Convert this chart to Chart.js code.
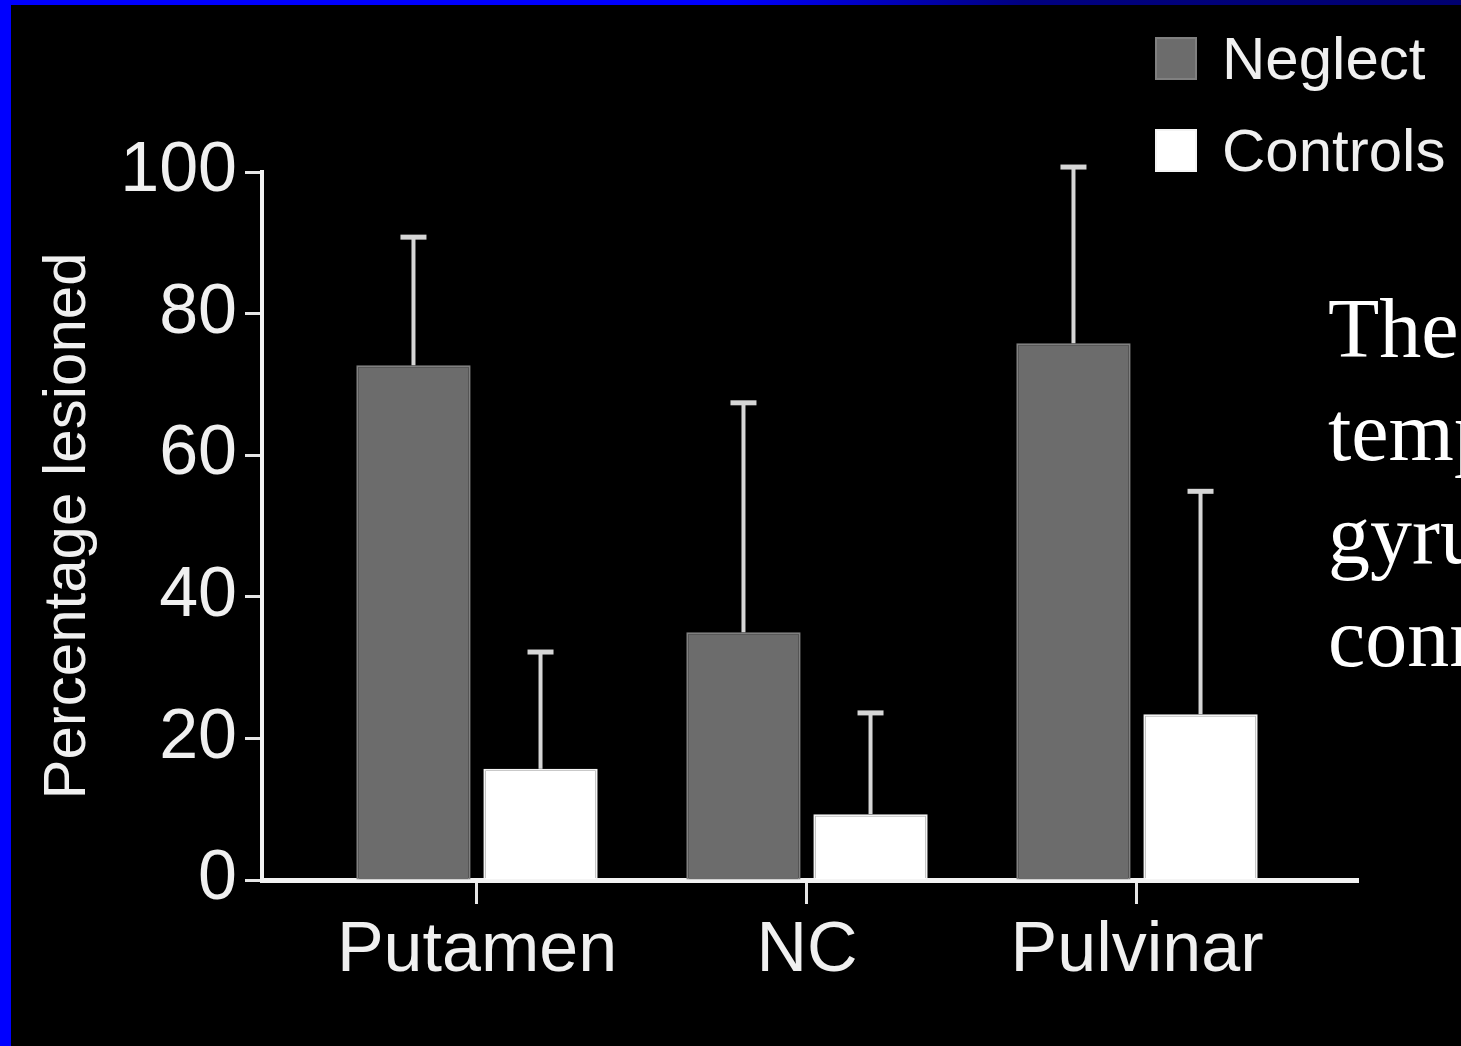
<!DOCTYPE html>
<html>
<head>
<meta charset="utf-8">
<script src="https://cdn.jsdelivr.net/npm/chart.js@4.4.1/dist/chart.umd.min.js"></script>
<style>
    html, body {
        margin: 0;
        padding: 0;
        width: 1461px;
        height: 1046px;
        overflow: hidden;
        background: #000;
    }
    .frame-left {
        position: absolute;
        left: 0; top: 0;
        width: 11px; height: 1046px;
        background: #0000ff;
    }
    .frame-top {
        position: absolute;
        left: 0; top: 0;
        width: 1461px; height: 5px;
        background: linear-gradient(to right, #0000ff 0%, #0000ff 50%, #000080 70%, #000070 100%);
    }
    #chartBox {
        position: absolute;
        left: 0; top: 0;
    }
    .legend {
        position: absolute;
        left: 1155px;
        top: 12px;
        font-family: "Liberation Sans", Arial, sans-serif;
        font-size: 60px;
        color: #f0f0f0;
    }
    .legend-item {
        display: flex;
        align-items: center;
        height: 92px;
        white-space: nowrap;
    }
    .legend-swatch {
        width: 42px;
        height: 43px;
        margin-right: 25px;
        box-sizing: border-box;
    }
    .side-text {
        position: absolute;
        left: 1328px;
        top: 277px;
        font-family: "Liberation Serif", "Times New Roman", serif;
        font-size: 84px;
        line-height: 103px;
        color: #fff;
        white-space: nowrap;
    }
</style>
</head>
<body>
<div class="frame-left"></div>
<div class="frame-top"></div>
<canvas id="chartBox" width="1461" height="1046"></canvas>
<div class="legend" id="legend"></div>
<div class="side-text">The<br>temporal<br>gyrus<br>connections</div>

<script>
// Data
const categories = ['Putamen', 'NC', 'Pulvinar'];
const categoryPos = [1, 2, 3];
const neglect = [72.7, 35.0, 75.8];
const neglectErr = [18.1, 32.4, 24.9];
const controls = [15.7, 9.3, 23.4];
const controlsErr = [16.5, 14.3, 31.5];
const yTicks = [0, 20, 40, 60, 80, 100];

const seriesLabels = ['Neglect', 'Controls'];
const seriesColors = ['#6c6c6c', '#ffffff'];
const seriesEdges = ['#808080', '#f4f4f4'];

// Upward-only error bars
const errorBars = {
    id: 'errorBars',
    afterDatasetsDraw(chart) {
        const ctx = chart.ctx;
        const yScale = chart.scales.y;
        const sets = [[neglect, neglectErr], [controls, controlsErr]];
        sets.forEach(([vals, errs], d) => {
            chart.getDatasetMeta(d).data.forEach((bar, i) => {
                const top = yScale.getPixelForValue(vals[i] + errs[i]);
                ctx.save();
                ctx.strokeStyle = '#d6d6d6';
                ctx.lineWidth = 4;
                ctx.beginPath();
                ctx.moveTo(bar.x, bar.y);
                ctx.lineTo(bar.x, top);
                ctx.stroke();
                ctx.lineWidth = 5;
                ctx.beginPath();
                ctx.moveTo(bar.x - 13, top);
                ctx.lineTo(bar.x + 13, top);
                ctx.stroke();
                ctx.restore();
            });
        });
    }
};

Chart.defaults.font.family = '"Liberation Sans", Arial, sans-serif';
Chart.defaults.color = '#f0f0f0';

const ctx = document.getElementById('chartBox');

new Chart(ctx, {
    type: 'bar',
    data: {
        datasets: [{
            label: seriesLabels[0],
            data: categoryPos.map((x, i) => ({ x: x, y: neglect[i] })),
            backgroundColor: seriesColors[0],
            borderColor: seriesEdges[0],
            borderWidth: 2
        }, {
            label: seriesLabels[1],
            data: categoryPos.map((x, i) => ({ x: x, y: controls[i] })),
            backgroundColor: seriesColors[1],
            borderColor: seriesEdges[1],
            borderWidth: 2
        }]
    },
    options: {
        responsive: false,
        animation: false,
        categoryPercentage: 0.77,
        barPercentage: 0.9,
        layout: {
            padding: { top: 172, right: 103, left: 0, bottom: 0 }
        },
        plugins: {
            legend: { display: false },
            tooltip: { enabled: false }
        },
        scales: {
            x: {
                type: 'linear',
                offset: false,
                min: 0.3485,
                max: 3.6697,
                afterBuildTicks: function(scale) {
                    scale.ticks = categoryPos.map(v => ({ value: v }));
                },
                afterFit: function(scale) {
                    scale.height = 166;
                },
                grid: {
                    offset: false,
                    drawOnChartArea: false,
                    drawTicks: true,
                    tickLength: 24,
                    tickWidth: 3,
                    color: '#e6e6e6'
                },
                border: {
                    display: true,
                    color: '#f2f2f2',
                    width: 5
                },
                ticks: {
                    autoSkip: false,
                    maxRotation: 0,
                    padding: 6,
                    color: '#f0f0f0',
                    font: { size: 70 },
                    callback: function(value) {
                        return categories[categoryPos.indexOf(value)];
                    }
                }
            },
            y: {
                min: 0,
                max: 100,
                afterBuildTicks: function(scale) {
                    scale.ticks = yTicks.map(v => ({ value: v }));
                },
                afterFit: function(scale) {
                    scale.width = 262;
                },
                grid: {
                    drawOnChartArea: false,
                    drawTicks: true,
                    tickLength: 17,
                    tickWidth: 3,
                    color: '#e6e6e6'
                },
                border: {
                    display: true,
                    color: '#f2f2f2',
                    width: 4
                },
                ticks: {
                    padding: 8,
                    color: '#f0f0f0',
                    font: { size: 70 }
                },
                title: {
                    display: true,
                    text: 'Percentage lesioned',
                    color: '#f0f0f0',
                    font: { size: 60 },
                    padding: { top: 32, bottom: 0 }
                }
            }
        }
    },
    plugins: [errorBars]
});

// Legend stacked at top right
const legend = document.getElementById('legend');
seriesLabels.forEach((label, i) => {
    const item = document.createElement('div');
    item.className = 'legend-item';
    item.innerHTML = `
        <div class="legend-swatch" style="background:${seriesColors[i]}; border:2px solid ${seriesEdges[i]}"></div>
        <span>${label}</span>
    `;
    legend.appendChild(item);
});
</script>
</body>
</html>
